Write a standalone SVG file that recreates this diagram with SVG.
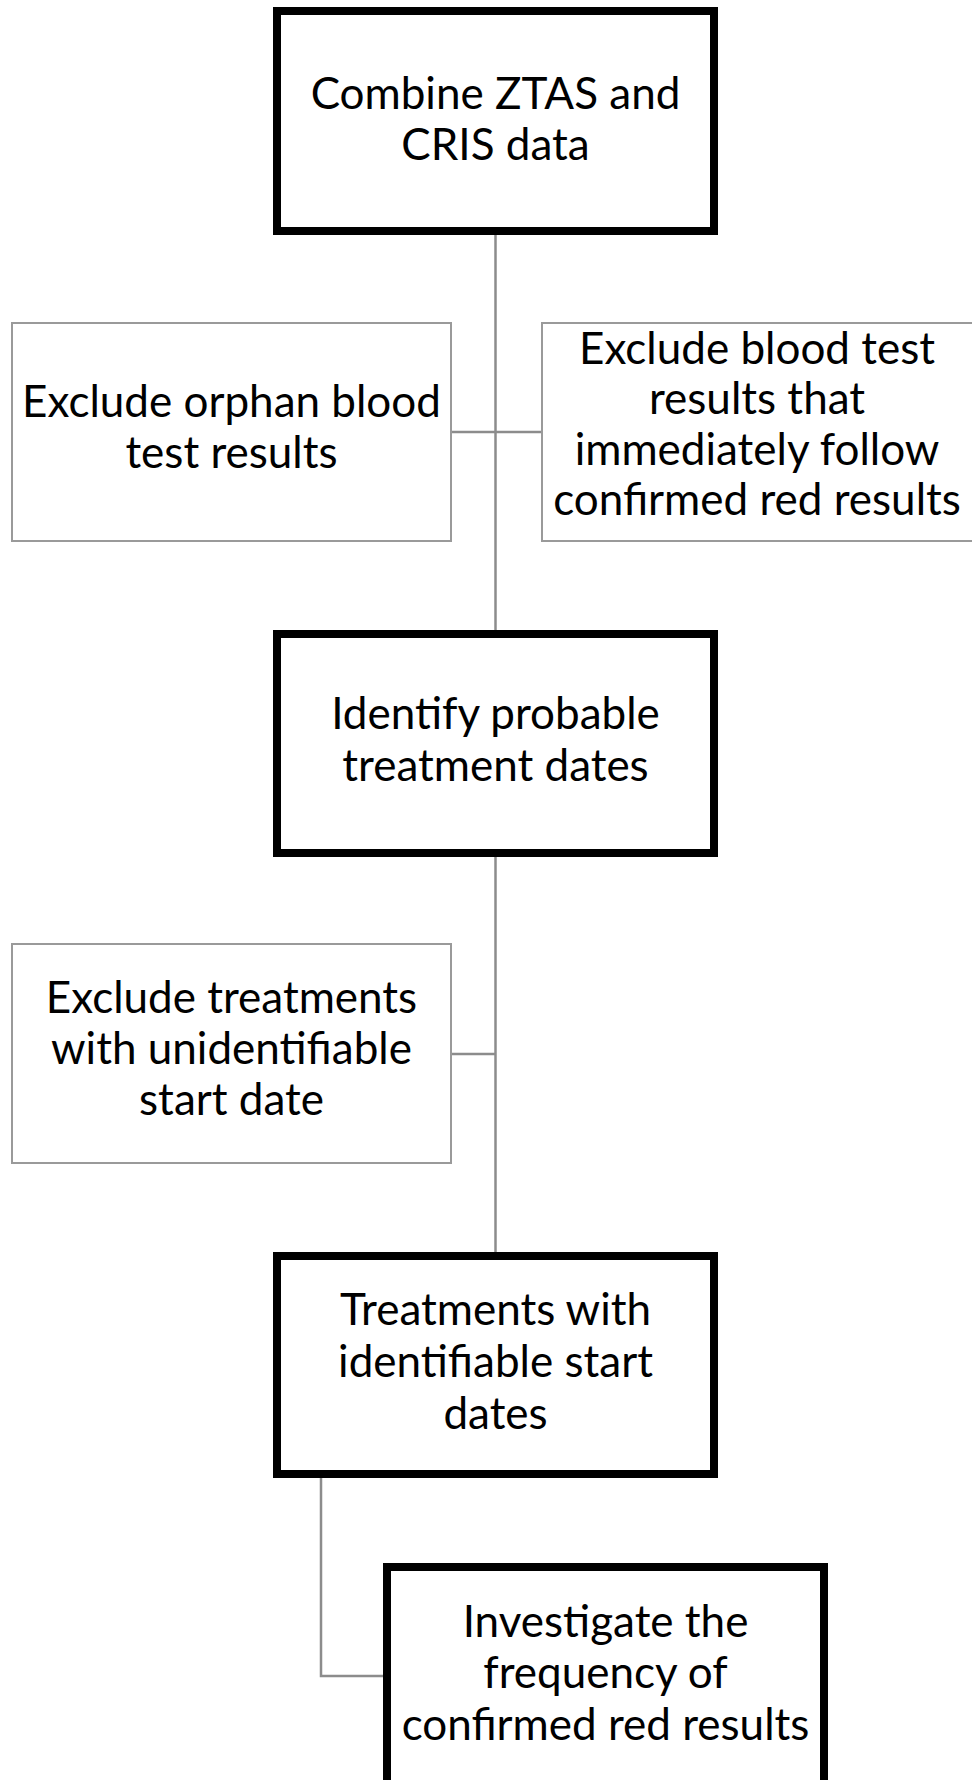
<svg xmlns="http://www.w3.org/2000/svg" width="972" height="1780" viewBox="0 0 972 1780">
  <style>
    .main { fill: #ffffff; stroke: #000000; stroke-width: 8; }
    .side { fill: #ffffff; stroke: #9a9a9a; stroke-width: 2; }
    .link { fill: none; stroke: #8c8c8c; stroke-width: 2.5; }
    text { font-family: Lato, "Liberation Sans", sans-serif; font-size: 44px; fill: #000000; text-anchor: middle; }
  </style>
  <rect width="972" height="1780" fill="#ffffff"/>

  <!-- connectors -->
  <g id="connectors">
    <line class="link" x1="495.5" y1="235" x2="495.5" y2="630"/>
    <line class="link" x1="451" y1="432" x2="542" y2="432"/>
    <line class="link" x1="495.5" y1="857" x2="495.5" y2="1252"/>
    <line class="link" x1="451" y1="1054" x2="495.5" y2="1054"/>
    <polyline class="link" points="321,1478 321,1676 383,1676"/>
  </g>

  <g id="combine">
    <rect class="main" x="277" y="11" width="437" height="220"/>
    <text x="495.5" y="109">Combine ZTAS and</text>
    <text x="495.5" y="160">CRIS data</text>
  </g>

  <g id="exclude-orphan">
    <rect class="side" x="12" y="323" width="439" height="218"/>
    <text x="231.5" y="417">Exclude orphan blood</text>
    <text x="231.5" y="468">test results</text>
  </g>

  <g id="exclude-following">
    <rect class="side" x="542" y="323" width="440" height="218"/>
    <text x="757" y="363.5">Exclude blood test</text>
    <text x="757" y="414">results that</text>
    <text x="757" y="464.5">immediately follow</text>
    <text x="757" y="515">confirmed red results</text>
  </g>

  <g id="identify-dates">
    <rect class="main" x="277" y="634" width="437" height="219"/>
    <text x="495.5" y="729">Identify probable</text>
    <text x="495.5" y="781">treatment dates</text>
  </g>

  <g id="exclude-unidentifiable">
    <rect class="side" x="12" y="944" width="439" height="219"/>
    <text x="231.5" y="1013">Exclude treatments</text>
    <text x="231.5" y="1064">with unidentifiable</text>
    <text x="231.5" y="1115">start date</text>
  </g>

  <g id="identifiable-treatments">
    <rect class="main" x="277" y="1256" width="437" height="218"/>
    <text x="495.5" y="1325">Treatments with</text>
    <text x="495.5" y="1377">identifiable start</text>
    <text x="495.5" y="1429">dates</text>
  </g>

  <g id="investigate">
    <rect class="main" x="387" y="1567" width="437" height="260"/>
    <text x="605.5" y="1637">Investigate the</text>
    <text x="605.5" y="1688">frequency of</text>
    <text x="605.5" y="1740">confirmed red results</text>
  </g>
</svg>
